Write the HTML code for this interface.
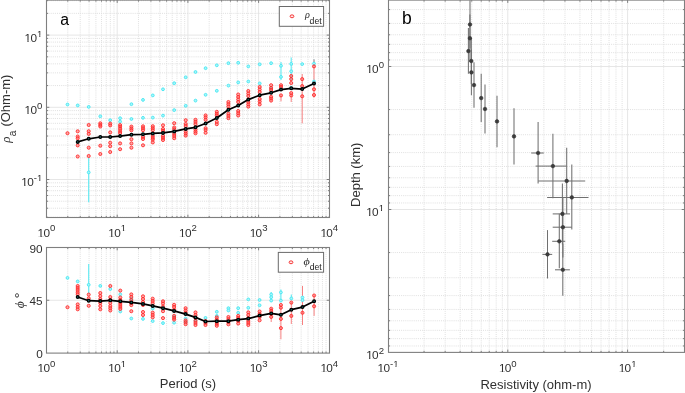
<!DOCTYPE html><html><head><meta charset="utf-8"><style>html,body{margin:0;padding:0;background:#fff;overflow:hidden}svg{display:block;will-change:transform}</style></head><body><svg width="685" height="393" viewBox="0 0 685 393">
<style>
.gmin{stroke:#dcdcdc;stroke-width:0.9;stroke-dasharray:1 1.1;fill:none}
.gmaj{stroke:#e6e6e6;stroke-width:1;fill:none}
.box{fill:none;stroke:#7f7f7f;stroke-width:1.1}
.tick{fill:none;stroke:#7f7f7f;stroke-width:1}
.t{font-family:"Liberation Sans",sans-serif;font-size:11.8px;fill:#303030}
.ts{font-family:"Liberation Sans",sans-serif;font-size:9.6px;fill:#303030}
.lbl{font-family:"Liberation Sans",sans-serif;font-size:13.0px;fill:#303030}
.cy{fill:#a8f7fb;stroke:#50e9f3;stroke-width:1.0}
.rd{fill:#ff6060;stroke:#ff2626;stroke-width:0.85;fill-opacity:0.55}
.bk{fill:#1a7272;stroke:#000;stroke-width:1.3}
.cye{stroke:#5ce9f3;stroke-width:1.1;fill:none}
.rde{stroke:#f56a6a;stroke-width:0.85;fill:none}
.bl{stroke:#000;stroke-width:1.7;fill:none;stroke-linejoin:round}
.pe{stroke:#707070;stroke-width:1.05;fill:none}
.pm{fill:#3c3c3c;stroke:#333;stroke-width:0.6}
</style>
<rect width="685" height="393" fill="#fff"/>
<line x1="67.78" y1="0.1" x2="67.78" y2="217.5" class="gmin"/>
<line x1="80.23" y1="0.1" x2="80.23" y2="217.5" class="gmin"/>
<line x1="89.07" y1="0.1" x2="89.07" y2="217.5" class="gmin"/>
<line x1="95.92" y1="0.1" x2="95.92" y2="217.5" class="gmin"/>
<line x1="101.52" y1="0.1" x2="101.52" y2="217.5" class="gmin"/>
<line x1="106.25" y1="0.1" x2="106.25" y2="217.5" class="gmin"/>
<line x1="110.35" y1="0.1" x2="110.35" y2="217.5" class="gmin"/>
<line x1="113.96" y1="0.1" x2="113.96" y2="217.5" class="gmin"/>
<line x1="138.48" y1="0.1" x2="138.48" y2="217.5" class="gmin"/>
<line x1="150.93" y1="0.1" x2="150.93" y2="217.5" class="gmin"/>
<line x1="159.77" y1="0.1" x2="159.77" y2="217.5" class="gmin"/>
<line x1="166.62" y1="0.1" x2="166.62" y2="217.5" class="gmin"/>
<line x1="172.22" y1="0.1" x2="172.22" y2="217.5" class="gmin"/>
<line x1="176.95" y1="0.1" x2="176.95" y2="217.5" class="gmin"/>
<line x1="181.05" y1="0.1" x2="181.05" y2="217.5" class="gmin"/>
<line x1="184.66" y1="0.1" x2="184.66" y2="217.5" class="gmin"/>
<line x1="209.18" y1="0.1" x2="209.18" y2="217.5" class="gmin"/>
<line x1="221.63" y1="0.1" x2="221.63" y2="217.5" class="gmin"/>
<line x1="230.47" y1="0.1" x2="230.47" y2="217.5" class="gmin"/>
<line x1="237.32" y1="0.1" x2="237.32" y2="217.5" class="gmin"/>
<line x1="242.92" y1="0.1" x2="242.92" y2="217.5" class="gmin"/>
<line x1="247.65" y1="0.1" x2="247.65" y2="217.5" class="gmin"/>
<line x1="251.75" y1="0.1" x2="251.75" y2="217.5" class="gmin"/>
<line x1="255.36" y1="0.1" x2="255.36" y2="217.5" class="gmin"/>
<line x1="279.88" y1="0.1" x2="279.88" y2="217.5" class="gmin"/>
<line x1="292.33" y1="0.1" x2="292.33" y2="217.5" class="gmin"/>
<line x1="301.17" y1="0.1" x2="301.17" y2="217.5" class="gmin"/>
<line x1="308.02" y1="0.1" x2="308.02" y2="217.5" class="gmin"/>
<line x1="313.62" y1="0.1" x2="313.62" y2="217.5" class="gmin"/>
<line x1="318.35" y1="0.1" x2="318.35" y2="217.5" class="gmin"/>
<line x1="322.45" y1="0.1" x2="322.45" y2="217.5" class="gmin"/>
<line x1="326.06" y1="0.1" x2="326.06" y2="217.5" class="gmin"/>
<line x1="117.20" y1="0.1" x2="117.20" y2="217.5" class="gmaj"/>
<line x1="187.90" y1="0.1" x2="187.90" y2="217.5" class="gmaj"/>
<line x1="258.60" y1="0.1" x2="258.60" y2="217.5" class="gmaj"/>
<line x1="46.5" y1="217.25" x2="329.5" y2="217.25" class="gmin"/>
<line x1="46.5" y1="208.23" x2="329.5" y2="208.23" class="gmin"/>
<line x1="46.5" y1="201.23" x2="329.5" y2="201.23" class="gmin"/>
<line x1="46.5" y1="195.52" x2="329.5" y2="195.52" class="gmin"/>
<line x1="46.5" y1="190.68" x2="329.5" y2="190.68" class="gmin"/>
<line x1="46.5" y1="186.50" x2="329.5" y2="186.50" class="gmin"/>
<line x1="46.5" y1="182.80" x2="329.5" y2="182.80" class="gmin"/>
<line x1="46.5" y1="157.77" x2="329.5" y2="157.77" class="gmin"/>
<line x1="46.5" y1="145.05" x2="329.5" y2="145.05" class="gmin"/>
<line x1="46.5" y1="136.03" x2="329.5" y2="136.03" class="gmin"/>
<line x1="46.5" y1="129.03" x2="329.5" y2="129.03" class="gmin"/>
<line x1="46.5" y1="123.32" x2="329.5" y2="123.32" class="gmin"/>
<line x1="46.5" y1="118.48" x2="329.5" y2="118.48" class="gmin"/>
<line x1="46.5" y1="114.30" x2="329.5" y2="114.30" class="gmin"/>
<line x1="46.5" y1="110.60" x2="329.5" y2="110.60" class="gmin"/>
<line x1="46.5" y1="85.57" x2="329.5" y2="85.57" class="gmin"/>
<line x1="46.5" y1="72.85" x2="329.5" y2="72.85" class="gmin"/>
<line x1="46.5" y1="63.83" x2="329.5" y2="63.83" class="gmin"/>
<line x1="46.5" y1="56.83" x2="329.5" y2="56.83" class="gmin"/>
<line x1="46.5" y1="51.12" x2="329.5" y2="51.12" class="gmin"/>
<line x1="46.5" y1="46.28" x2="329.5" y2="46.28" class="gmin"/>
<line x1="46.5" y1="42.10" x2="329.5" y2="42.10" class="gmin"/>
<line x1="46.5" y1="38.40" x2="329.5" y2="38.40" class="gmin"/>
<line x1="46.5" y1="13.37" x2="329.5" y2="13.37" class="gmin"/>
<line x1="46.5" y1="0.65" x2="329.5" y2="0.65" class="gmin"/>
<line x1="46.5" y1="179.50" x2="329.5" y2="179.50" class="gmaj"/>
<line x1="46.5" y1="107.30" x2="329.5" y2="107.30" class="gmaj"/>
<line x1="46.5" y1="35.10" x2="329.5" y2="35.10" class="gmaj"/>
<line x1="67.78" y1="247.5" x2="67.78" y2="353.1" class="gmin"/>
<line x1="80.23" y1="247.5" x2="80.23" y2="353.1" class="gmin"/>
<line x1="89.07" y1="247.5" x2="89.07" y2="353.1" class="gmin"/>
<line x1="95.92" y1="247.5" x2="95.92" y2="353.1" class="gmin"/>
<line x1="101.52" y1="247.5" x2="101.52" y2="353.1" class="gmin"/>
<line x1="106.25" y1="247.5" x2="106.25" y2="353.1" class="gmin"/>
<line x1="110.35" y1="247.5" x2="110.35" y2="353.1" class="gmin"/>
<line x1="113.96" y1="247.5" x2="113.96" y2="353.1" class="gmin"/>
<line x1="138.48" y1="247.5" x2="138.48" y2="353.1" class="gmin"/>
<line x1="150.93" y1="247.5" x2="150.93" y2="353.1" class="gmin"/>
<line x1="159.77" y1="247.5" x2="159.77" y2="353.1" class="gmin"/>
<line x1="166.62" y1="247.5" x2="166.62" y2="353.1" class="gmin"/>
<line x1="172.22" y1="247.5" x2="172.22" y2="353.1" class="gmin"/>
<line x1="176.95" y1="247.5" x2="176.95" y2="353.1" class="gmin"/>
<line x1="181.05" y1="247.5" x2="181.05" y2="353.1" class="gmin"/>
<line x1="184.66" y1="247.5" x2="184.66" y2="353.1" class="gmin"/>
<line x1="209.18" y1="247.5" x2="209.18" y2="353.1" class="gmin"/>
<line x1="221.63" y1="247.5" x2="221.63" y2="353.1" class="gmin"/>
<line x1="230.47" y1="247.5" x2="230.47" y2="353.1" class="gmin"/>
<line x1="237.32" y1="247.5" x2="237.32" y2="353.1" class="gmin"/>
<line x1="242.92" y1="247.5" x2="242.92" y2="353.1" class="gmin"/>
<line x1="247.65" y1="247.5" x2="247.65" y2="353.1" class="gmin"/>
<line x1="251.75" y1="247.5" x2="251.75" y2="353.1" class="gmin"/>
<line x1="255.36" y1="247.5" x2="255.36" y2="353.1" class="gmin"/>
<line x1="279.88" y1="247.5" x2="279.88" y2="353.1" class="gmin"/>
<line x1="292.33" y1="247.5" x2="292.33" y2="353.1" class="gmin"/>
<line x1="301.17" y1="247.5" x2="301.17" y2="353.1" class="gmin"/>
<line x1="308.02" y1="247.5" x2="308.02" y2="353.1" class="gmin"/>
<line x1="313.62" y1="247.5" x2="313.62" y2="353.1" class="gmin"/>
<line x1="318.35" y1="247.5" x2="318.35" y2="353.1" class="gmin"/>
<line x1="322.45" y1="247.5" x2="322.45" y2="353.1" class="gmin"/>
<line x1="326.06" y1="247.5" x2="326.06" y2="353.1" class="gmin"/>
<line x1="117.20" y1="247.5" x2="117.20" y2="353.1" class="gmaj"/>
<line x1="187.90" y1="247.5" x2="187.90" y2="353.1" class="gmaj"/>
<line x1="258.60" y1="247.5" x2="258.60" y2="353.1" class="gmaj"/>
<line x1="46.5" y1="300.25" x2="329.5" y2="300.25" class="gmaj"/>
<line x1="424.06" y1="0.1" x2="424.06" y2="352.4" class="gmin"/>
<line x1="445.16" y1="0.1" x2="445.16" y2="352.4" class="gmin"/>
<line x1="460.13" y1="0.1" x2="460.13" y2="352.4" class="gmin"/>
<line x1="471.74" y1="0.1" x2="471.74" y2="352.4" class="gmin"/>
<line x1="481.22" y1="0.1" x2="481.22" y2="352.4" class="gmin"/>
<line x1="489.24" y1="0.1" x2="489.24" y2="352.4" class="gmin"/>
<line x1="496.19" y1="0.1" x2="496.19" y2="352.4" class="gmin"/>
<line x1="502.32" y1="0.1" x2="502.32" y2="352.4" class="gmin"/>
<line x1="543.86" y1="0.1" x2="543.86" y2="352.4" class="gmin"/>
<line x1="564.96" y1="0.1" x2="564.96" y2="352.4" class="gmin"/>
<line x1="579.93" y1="0.1" x2="579.93" y2="352.4" class="gmin"/>
<line x1="591.54" y1="0.1" x2="591.54" y2="352.4" class="gmin"/>
<line x1="601.02" y1="0.1" x2="601.02" y2="352.4" class="gmin"/>
<line x1="609.04" y1="0.1" x2="609.04" y2="352.4" class="gmin"/>
<line x1="615.99" y1="0.1" x2="615.99" y2="352.4" class="gmin"/>
<line x1="622.12" y1="0.1" x2="622.12" y2="352.4" class="gmin"/>
<line x1="663.66" y1="0.1" x2="663.66" y2="352.4" class="gmin"/>
<line x1="507.80" y1="0.1" x2="507.80" y2="352.4" class="gmaj"/>
<line x1="627.60" y1="0.1" x2="627.60" y2="352.4" class="gmaj"/>
<line x1="388.5" y1="9.59" x2="684.5" y2="9.59" class="gmin"/>
<line x1="388.5" y1="23.45" x2="684.5" y2="23.45" class="gmin"/>
<line x1="388.5" y1="34.78" x2="684.5" y2="34.78" class="gmin"/>
<line x1="388.5" y1="44.35" x2="684.5" y2="44.35" class="gmin"/>
<line x1="388.5" y1="52.64" x2="684.5" y2="52.64" class="gmin"/>
<line x1="388.5" y1="59.96" x2="684.5" y2="59.96" class="gmin"/>
<line x1="388.5" y1="109.55" x2="684.5" y2="109.55" class="gmin"/>
<line x1="388.5" y1="134.73" x2="684.5" y2="134.73" class="gmin"/>
<line x1="388.5" y1="152.59" x2="684.5" y2="152.59" class="gmin"/>
<line x1="388.5" y1="166.45" x2="684.5" y2="166.45" class="gmin"/>
<line x1="388.5" y1="177.78" x2="684.5" y2="177.78" class="gmin"/>
<line x1="388.5" y1="187.35" x2="684.5" y2="187.35" class="gmin"/>
<line x1="388.5" y1="195.64" x2="684.5" y2="195.64" class="gmin"/>
<line x1="388.5" y1="202.96" x2="684.5" y2="202.96" class="gmin"/>
<line x1="388.5" y1="252.55" x2="684.5" y2="252.55" class="gmin"/>
<line x1="388.5" y1="277.73" x2="684.5" y2="277.73" class="gmin"/>
<line x1="388.5" y1="295.59" x2="684.5" y2="295.59" class="gmin"/>
<line x1="388.5" y1="309.45" x2="684.5" y2="309.45" class="gmin"/>
<line x1="388.5" y1="320.78" x2="684.5" y2="320.78" class="gmin"/>
<line x1="388.5" y1="330.35" x2="684.5" y2="330.35" class="gmin"/>
<line x1="388.5" y1="338.64" x2="684.5" y2="338.64" class="gmin"/>
<line x1="388.5" y1="345.96" x2="684.5" y2="345.96" class="gmin"/>
<line x1="388.5" y1="66.50" x2="684.5" y2="66.50" class="gmaj"/>
<line x1="388.5" y1="209.50" x2="684.5" y2="209.50" class="gmaj"/>
<line x1="88.7" y1="157.5" x2="88.7" y2="202.3" class="cye"/>
<line x1="281.0" y1="62.0" x2="281.0" y2="80.0" class="cye"/>
<line x1="291.2" y1="57.5" x2="291.2" y2="80.0" class="cye"/>
<line x1="314.0" y1="59.2" x2="314.0" y2="66.0" class="cye"/>
<line x1="281.0" y1="95.0" x2="281.0" y2="101.4" class="rde"/>
<line x1="291.2" y1="94.0" x2="291.2" y2="102.0" class="rde"/>
<line x1="302.2" y1="74.0" x2="302.2" y2="123.3" class="rde"/>
<line x1="314.0" y1="59.4" x2="314.0" y2="97.6" class="rde"/>
<line x1="259.7" y1="100.0" x2="259.7" y2="104.0" class="rde"/>
<circle cx="67.5" cy="104.5" r="1.4" class="cy"/>
<circle cx="77.7" cy="105.4" r="1.4" class="cy"/>
<circle cx="88.7" cy="106.9" r="1.4" class="cy"/>
<circle cx="88.7" cy="172.4" r="1.4" class="cy"/>
<circle cx="100.3" cy="116.3" r="1.4" class="cy"/>
<circle cx="110.2" cy="120.2" r="1.4" class="cy"/>
<circle cx="120.1" cy="118.2" r="1.4" class="cy"/>
<circle cx="120.1" cy="121.6" r="1.4" class="cy"/>
<circle cx="131.4" cy="104.2" r="1.4" class="cy"/>
<circle cx="131.4" cy="119.0" r="1.4" class="cy"/>
<circle cx="143.0" cy="99.9" r="1.4" class="cy"/>
<circle cx="143.0" cy="117.8" r="1.4" class="cy"/>
<circle cx="152.8" cy="95.4" r="1.4" class="cy"/>
<circle cx="152.8" cy="117.6" r="1.4" class="cy"/>
<circle cx="163.0" cy="89.3" r="1.4" class="cy"/>
<circle cx="163.0" cy="115.6" r="1.4" class="cy"/>
<circle cx="174.2" cy="83.2" r="1.4" class="cy"/>
<circle cx="174.2" cy="110.1" r="1.4" class="cy"/>
<circle cx="185.7" cy="77.3" r="1.4" class="cy"/>
<circle cx="185.7" cy="105.8" r="1.4" class="cy"/>
<circle cx="195.5" cy="72.0" r="1.4" class="cy"/>
<circle cx="195.5" cy="100.6" r="1.4" class="cy"/>
<circle cx="205.6" cy="68.2" r="1.4" class="cy"/>
<circle cx="205.6" cy="94.8" r="1.4" class="cy"/>
<circle cx="216.8" cy="65.3" r="1.4" class="cy"/>
<circle cx="216.8" cy="90.8" r="1.4" class="cy"/>
<circle cx="228.4" cy="63.2" r="1.4" class="cy"/>
<circle cx="228.4" cy="85.6" r="1.4" class="cy"/>
<circle cx="238.2" cy="62.8" r="1.4" class="cy"/>
<circle cx="238.2" cy="82.4" r="1.4" class="cy"/>
<circle cx="248.3" cy="66.4" r="1.4" class="cy"/>
<circle cx="248.3" cy="81.5" r="1.4" class="cy"/>
<circle cx="259.7" cy="64.3" r="1.4" class="cy"/>
<circle cx="259.7" cy="83.4" r="1.4" class="cy"/>
<circle cx="271.1" cy="63.2" r="1.4" class="cy"/>
<circle cx="271.1" cy="88.6" r="1.4" class="cy"/>
<circle cx="281.0" cy="65.8" r="1.4" class="cy"/>
<circle cx="281.0" cy="76.9" r="1.4" class="cy"/>
<circle cx="291.2" cy="63.9" r="1.4" class="cy"/>
<circle cx="291.2" cy="71.3" r="1.4" class="cy"/>
<circle cx="291.2" cy="88.0" r="1.4" class="cy"/>
<circle cx="302.2" cy="64.1" r="1.4" class="cy"/>
<circle cx="302.2" cy="88.6" r="1.4" class="cy"/>
<circle cx="314.0" cy="63.6" r="1.4" class="cy"/>
<circle cx="314.0" cy="81.5" r="1.4" class="cy"/>
<circle cx="67.5" cy="133.2" r="1.55" class="rd"/>
<circle cx="77.7" cy="131.3" r="1.55" class="rd"/>
<circle cx="77.7" cy="136.5" r="1.55" class="rd"/>
<circle cx="77.7" cy="138.3" r="1.55" class="rd"/>
<circle cx="77.7" cy="145.4" r="1.55" class="rd"/>
<circle cx="77.7" cy="156.5" r="1.55" class="rd"/>
<circle cx="88.7" cy="125.0" r="1.55" class="rd"/>
<circle cx="88.7" cy="131.2" r="1.55" class="rd"/>
<circle cx="88.7" cy="133.9" r="1.55" class="rd"/>
<circle cx="88.7" cy="147.7" r="1.55" class="rd"/>
<circle cx="88.7" cy="156.0" r="1.55" class="rd"/>
<circle cx="100.3" cy="123.3" r="1.55" class="rd"/>
<circle cx="100.3" cy="125.0" r="1.55" class="rd"/>
<circle cx="100.3" cy="126.5" r="1.55" class="rd"/>
<circle cx="100.3" cy="145.7" r="1.55" class="rd"/>
<circle cx="100.3" cy="154.0" r="1.55" class="rd"/>
<circle cx="110.2" cy="123.6" r="1.55" class="rd"/>
<circle cx="110.2" cy="125.4" r="1.55" class="rd"/>
<circle cx="110.2" cy="132.4" r="1.55" class="rd"/>
<circle cx="110.2" cy="142.7" r="1.55" class="rd"/>
<circle cx="110.2" cy="146.2" r="1.55" class="rd"/>
<circle cx="110.2" cy="152.0" r="1.55" class="rd"/>
<circle cx="120.1" cy="125.1" r="1.55" class="rd"/>
<circle cx="120.1" cy="126.8" r="1.55" class="rd"/>
<circle cx="120.1" cy="128.9" r="1.55" class="rd"/>
<circle cx="120.1" cy="131.2" r="1.55" class="rd"/>
<circle cx="120.1" cy="133.0" r="1.55" class="rd"/>
<circle cx="120.1" cy="143.4" r="1.55" class="rd"/>
<circle cx="120.1" cy="149.2" r="1.55" class="rd"/>
<circle cx="131.4" cy="126.6" r="1.55" class="rd"/>
<circle cx="131.4" cy="128.5" r="1.55" class="rd"/>
<circle cx="131.4" cy="130.3" r="1.55" class="rd"/>
<circle cx="131.4" cy="139.2" r="1.55" class="rd"/>
<circle cx="131.4" cy="143.4" r="1.55" class="rd"/>
<circle cx="131.4" cy="147.7" r="1.55" class="rd"/>
<circle cx="143.0" cy="126.3" r="1.55" class="rd"/>
<circle cx="143.0" cy="128.2" r="1.55" class="rd"/>
<circle cx="143.0" cy="130.2" r="1.55" class="rd"/>
<circle cx="143.0" cy="137.0" r="1.55" class="rd"/>
<circle cx="143.0" cy="139.0" r="1.55" class="rd"/>
<circle cx="143.0" cy="145.3" r="1.55" class="rd"/>
<circle cx="152.8" cy="126.2" r="1.55" class="rd"/>
<circle cx="152.8" cy="128.2" r="1.55" class="rd"/>
<circle cx="152.8" cy="130.2" r="1.55" class="rd"/>
<circle cx="152.8" cy="136.0" r="1.55" class="rd"/>
<circle cx="152.8" cy="138.0" r="1.55" class="rd"/>
<circle cx="152.8" cy="139.6" r="1.55" class="rd"/>
<circle cx="152.8" cy="142.4" r="1.55" class="rd"/>
<circle cx="163.0" cy="125.3" r="1.55" class="rd"/>
<circle cx="163.0" cy="129.0" r="1.55" class="rd"/>
<circle cx="163.0" cy="130.9" r="1.55" class="rd"/>
<circle cx="163.0" cy="136.0" r="1.55" class="rd"/>
<circle cx="163.0" cy="138.0" r="1.55" class="rd"/>
<circle cx="163.0" cy="140.0" r="1.55" class="rd"/>
<circle cx="174.2" cy="123.2" r="1.55" class="rd"/>
<circle cx="174.2" cy="127.5" r="1.55" class="rd"/>
<circle cx="174.2" cy="129.3" r="1.55" class="rd"/>
<circle cx="174.2" cy="134.0" r="1.55" class="rd"/>
<circle cx="174.2" cy="136.0" r="1.55" class="rd"/>
<circle cx="174.2" cy="138.2" r="1.55" class="rd"/>
<circle cx="185.7" cy="120.2" r="1.55" class="rd"/>
<circle cx="185.7" cy="124.0" r="1.55" class="rd"/>
<circle cx="185.7" cy="126.0" r="1.55" class="rd"/>
<circle cx="185.7" cy="131.6" r="1.55" class="rd"/>
<circle cx="185.7" cy="133.6" r="1.55" class="rd"/>
<circle cx="185.7" cy="135.6" r="1.55" class="rd"/>
<circle cx="195.5" cy="119.8" r="1.55" class="rd"/>
<circle cx="195.5" cy="121.9" r="1.55" class="rd"/>
<circle cx="195.5" cy="124.2" r="1.55" class="rd"/>
<circle cx="195.5" cy="129.5" r="1.55" class="rd"/>
<circle cx="195.5" cy="131.5" r="1.55" class="rd"/>
<circle cx="195.5" cy="133.3" r="1.55" class="rd"/>
<circle cx="205.6" cy="115.4" r="1.55" class="rd"/>
<circle cx="205.6" cy="117.4" r="1.55" class="rd"/>
<circle cx="205.6" cy="119.8" r="1.55" class="rd"/>
<circle cx="205.6" cy="128.2" r="1.55" class="rd"/>
<circle cx="205.6" cy="130.0" r="1.55" class="rd"/>
<circle cx="205.6" cy="132.8" r="1.55" class="rd"/>
<circle cx="216.8" cy="111.8" r="1.55" class="rd"/>
<circle cx="216.8" cy="113.8" r="1.55" class="rd"/>
<circle cx="216.8" cy="115.6" r="1.55" class="rd"/>
<circle cx="216.8" cy="121.9" r="1.55" class="rd"/>
<circle cx="216.8" cy="124.2" r="1.55" class="rd"/>
<circle cx="228.4" cy="102.0" r="1.55" class="rd"/>
<circle cx="228.4" cy="104.2" r="1.55" class="rd"/>
<circle cx="228.4" cy="106.5" r="1.55" class="rd"/>
<circle cx="228.4" cy="113.8" r="1.55" class="rd"/>
<circle cx="228.4" cy="116.0" r="1.55" class="rd"/>
<circle cx="228.4" cy="118.2" r="1.55" class="rd"/>
<circle cx="238.2" cy="94.5" r="1.55" class="rd"/>
<circle cx="238.2" cy="97.0" r="1.55" class="rd"/>
<circle cx="238.2" cy="99.5" r="1.55" class="rd"/>
<circle cx="238.2" cy="102.0" r="1.55" class="rd"/>
<circle cx="238.2" cy="111.0" r="1.55" class="rd"/>
<circle cx="238.2" cy="113.2" r="1.55" class="rd"/>
<circle cx="238.2" cy="115.5" r="1.55" class="rd"/>
<circle cx="248.3" cy="91.0" r="1.55" class="rd"/>
<circle cx="248.3" cy="93.5" r="1.55" class="rd"/>
<circle cx="248.3" cy="96.0" r="1.55" class="rd"/>
<circle cx="248.3" cy="102.0" r="1.55" class="rd"/>
<circle cx="248.3" cy="104.4" r="1.55" class="rd"/>
<circle cx="248.3" cy="106.6" r="1.55" class="rd"/>
<circle cx="259.7" cy="87.0" r="1.55" class="rd"/>
<circle cx="259.7" cy="89.5" r="1.55" class="rd"/>
<circle cx="259.7" cy="92.0" r="1.55" class="rd"/>
<circle cx="259.7" cy="99.0" r="1.55" class="rd"/>
<circle cx="259.7" cy="101.5" r="1.55" class="rd"/>
<circle cx="259.7" cy="104.4" r="1.55" class="rd"/>
<circle cx="271.1" cy="85.2" r="1.55" class="rd"/>
<circle cx="271.1" cy="87.9" r="1.55" class="rd"/>
<circle cx="271.1" cy="90.0" r="1.55" class="rd"/>
<circle cx="271.1" cy="96.8" r="1.55" class="rd"/>
<circle cx="271.1" cy="98.6" r="1.55" class="rd"/>
<circle cx="271.1" cy="100.6" r="1.55" class="rd"/>
<circle cx="281.0" cy="85.2" r="1.55" class="rd"/>
<circle cx="281.0" cy="87.0" r="1.55" class="rd"/>
<circle cx="281.0" cy="95.4" r="1.55" class="rd"/>
<circle cx="291.2" cy="76.0" r="1.55" class="rd"/>
<circle cx="291.2" cy="79.1" r="1.55" class="rd"/>
<circle cx="291.2" cy="83.0" r="1.55" class="rd"/>
<circle cx="291.2" cy="93.1" r="1.55" class="rd"/>
<circle cx="291.2" cy="95.4" r="1.55" class="rd"/>
<circle cx="302.2" cy="79.1" r="1.55" class="rd"/>
<circle cx="302.2" cy="86.1" r="1.55" class="rd"/>
<circle cx="302.2" cy="96.3" r="1.55" class="rd"/>
<circle cx="314.0" cy="66.4" r="1.55" class="rd"/>
<circle cx="314.0" cy="89.3" r="1.55" class="rd"/>
<circle cx="314.0" cy="95.0" r="1.55" class="rd"/>
<polyline class="bl" points="77.7,141.9 88.7,138.8 100.3,137.0 110.2,137.0 120.1,136.1 131.4,134.7 143.0,134.3 152.8,133.4 163.0,132.9 174.2,131.4 185.7,128.9 195.5,127.3 205.6,123.5 216.8,118.0 228.4,109.8 238.2,105.5 248.3,99.6 259.7,95.2 271.1,92.8 281.0,89.6 291.2,88.3 302.2,89.1 314.0,83.6"/>
<circle cx="77.7" cy="141.9" r="1.35" class="bk"/>
<circle cx="88.7" cy="138.8" r="1.35" class="bk"/>
<circle cx="100.3" cy="137.0" r="1.35" class="bk"/>
<circle cx="110.2" cy="137.0" r="1.35" class="bk"/>
<circle cx="120.1" cy="136.1" r="1.35" class="bk"/>
<circle cx="131.4" cy="134.7" r="1.35" class="bk"/>
<circle cx="143.0" cy="134.3" r="1.35" class="bk"/>
<circle cx="152.8" cy="133.4" r="1.35" class="bk"/>
<circle cx="163.0" cy="132.9" r="1.35" class="bk"/>
<circle cx="174.2" cy="131.4" r="1.35" class="bk"/>
<circle cx="185.7" cy="128.9" r="1.35" class="bk"/>
<circle cx="195.5" cy="127.3" r="1.35" class="bk"/>
<circle cx="205.6" cy="123.5" r="1.35" class="bk"/>
<circle cx="216.8" cy="118.0" r="1.35" class="bk"/>
<circle cx="228.4" cy="109.8" r="1.35" class="bk"/>
<circle cx="238.2" cy="105.5" r="1.35" class="bk"/>
<circle cx="248.3" cy="99.6" r="1.35" class="bk"/>
<circle cx="259.7" cy="95.2" r="1.35" class="bk"/>
<circle cx="271.1" cy="92.8" r="1.35" class="bk"/>
<circle cx="281.0" cy="89.6" r="1.35" class="bk"/>
<circle cx="291.2" cy="88.3" r="1.35" class="bk"/>
<circle cx="302.2" cy="89.1" r="1.35" class="bk"/>
<circle cx="314.0" cy="83.6" r="1.35" class="bk"/>
<line x1="88.7" y1="264.1" x2="88.7" y2="293.6" class="cye"/>
<line x1="271.2" y1="292.0" x2="271.2" y2="302.0" class="cye"/>
<line x1="280.9" y1="289.4" x2="280.9" y2="301.0" class="cye"/>
<line x1="291.3" y1="294.5" x2="291.3" y2="300.0" class="cye"/>
<line x1="271.2" y1="308.0" x2="271.2" y2="322.0" class="rde"/>
<line x1="280.9" y1="305.0" x2="280.9" y2="339.3" class="rde"/>
<line x1="291.3" y1="302.0" x2="291.3" y2="324.0" class="rde"/>
<line x1="302.5" y1="285.9" x2="302.5" y2="325.0" class="rde"/>
<line x1="314.1" y1="295.0" x2="314.1" y2="315.9" class="rde"/>
<circle cx="67.5" cy="277.9" r="1.4" class="cy"/>
<circle cx="77.7" cy="281.4" r="1.4" class="cy"/>
<circle cx="88.7" cy="284.8" r="1.4" class="cy"/>
<circle cx="100.3" cy="285.9" r="1.4" class="cy"/>
<circle cx="110.3" cy="289.1" r="1.4" class="cy"/>
<circle cx="120.3" cy="294.4" r="1.4" class="cy"/>
<circle cx="120.3" cy="311.5" r="1.4" class="cy"/>
<circle cx="131.3" cy="298.7" r="1.4" class="cy"/>
<circle cx="131.3" cy="318.5" r="1.4" class="cy"/>
<circle cx="143.0" cy="318.9" r="1.4" class="cy"/>
<circle cx="152.7" cy="308.5" r="1.4" class="cy"/>
<circle cx="152.7" cy="321.1" r="1.4" class="cy"/>
<circle cx="163.0" cy="323.1" r="1.4" class="cy"/>
<circle cx="174.1" cy="316.6" r="1.4" class="cy"/>
<circle cx="174.1" cy="322.7" r="1.4" class="cy"/>
<circle cx="185.6" cy="318.5" r="1.4" class="cy"/>
<circle cx="185.6" cy="321.9" r="1.4" class="cy"/>
<circle cx="195.5" cy="320.5" r="1.4" class="cy"/>
<circle cx="205.5" cy="317.9" r="1.4" class="cy"/>
<circle cx="216.8" cy="311.8" r="1.4" class="cy"/>
<circle cx="216.8" cy="315.9" r="1.4" class="cy"/>
<circle cx="228.4" cy="308.2" r="1.4" class="cy"/>
<circle cx="228.4" cy="310.5" r="1.4" class="cy"/>
<circle cx="238.2" cy="308.2" r="1.4" class="cy"/>
<circle cx="238.2" cy="312.8" r="1.4" class="cy"/>
<circle cx="248.3" cy="299.4" r="1.4" class="cy"/>
<circle cx="248.3" cy="307.8" r="1.4" class="cy"/>
<circle cx="259.6" cy="300.0" r="1.4" class="cy"/>
<circle cx="259.6" cy="305.3" r="1.4" class="cy"/>
<circle cx="271.2" cy="294.5" r="1.4" class="cy"/>
<circle cx="271.2" cy="297.2" r="1.4" class="cy"/>
<circle cx="271.2" cy="300.6" r="1.4" class="cy"/>
<circle cx="280.9" cy="292.4" r="1.4" class="cy"/>
<circle cx="280.9" cy="300.6" r="1.4" class="cy"/>
<circle cx="291.3" cy="298.5" r="1.4" class="cy"/>
<circle cx="302.5" cy="297.5" r="1.4" class="cy"/>
<circle cx="302.5" cy="300.2" r="1.4" class="cy"/>
<circle cx="67.5" cy="307.2" r="1.55" class="rd"/>
<circle cx="77.7" cy="286.0" r="1.55" class="rd"/>
<circle cx="77.7" cy="288.0" r="1.55" class="rd"/>
<circle cx="77.7" cy="290.0" r="1.55" class="rd"/>
<circle cx="77.7" cy="292.2" r="1.55" class="rd"/>
<circle cx="77.7" cy="294.2" r="1.55" class="rd"/>
<circle cx="77.7" cy="304.4" r="1.55" class="rd"/>
<circle cx="77.7" cy="307.0" r="1.55" class="rd"/>
<circle cx="77.7" cy="309.3" r="1.55" class="rd"/>
<circle cx="88.7" cy="294.6" r="1.55" class="rd"/>
<circle cx="88.7" cy="298.3" r="1.55" class="rd"/>
<circle cx="88.7" cy="305.8" r="1.55" class="rd"/>
<circle cx="100.3" cy="293.0" r="1.55" class="rd"/>
<circle cx="100.3" cy="296.0" r="1.55" class="rd"/>
<circle cx="100.3" cy="299.0" r="1.55" class="rd"/>
<circle cx="100.3" cy="303.0" r="1.55" class="rd"/>
<circle cx="100.3" cy="306.0" r="1.55" class="rd"/>
<circle cx="100.3" cy="309.3" r="1.55" class="rd"/>
<circle cx="110.3" cy="286.0" r="1.55" class="rd"/>
<circle cx="110.3" cy="297.0" r="1.55" class="rd"/>
<circle cx="110.3" cy="300.0" r="1.55" class="rd"/>
<circle cx="110.3" cy="303.0" r="1.55" class="rd"/>
<circle cx="110.3" cy="306.0" r="1.55" class="rd"/>
<circle cx="110.3" cy="308.2" r="1.55" class="rd"/>
<circle cx="110.3" cy="310.5" r="1.55" class="rd"/>
<circle cx="120.3" cy="290.6" r="1.55" class="rd"/>
<circle cx="120.3" cy="297.5" r="1.55" class="rd"/>
<circle cx="120.3" cy="300.0" r="1.55" class="rd"/>
<circle cx="120.3" cy="303.0" r="1.55" class="rd"/>
<circle cx="120.3" cy="305.0" r="1.55" class="rd"/>
<circle cx="120.3" cy="307.0" r="1.55" class="rd"/>
<circle cx="120.3" cy="308.9" r="1.55" class="rd"/>
<circle cx="131.3" cy="294.4" r="1.55" class="rd"/>
<circle cx="131.3" cy="297.0" r="1.55" class="rd"/>
<circle cx="131.3" cy="300.0" r="1.55" class="rd"/>
<circle cx="131.3" cy="303.0" r="1.55" class="rd"/>
<circle cx="131.3" cy="305.1" r="1.55" class="rd"/>
<circle cx="131.3" cy="311.2" r="1.55" class="rd"/>
<circle cx="143.0" cy="296.3" r="1.55" class="rd"/>
<circle cx="143.0" cy="299.0" r="1.55" class="rd"/>
<circle cx="143.0" cy="302.0" r="1.55" class="rd"/>
<circle cx="143.0" cy="305.0" r="1.55" class="rd"/>
<circle cx="143.0" cy="312.0" r="1.55" class="rd"/>
<circle cx="143.0" cy="315.0" r="1.55" class="rd"/>
<circle cx="152.7" cy="298.7" r="1.55" class="rd"/>
<circle cx="152.7" cy="301.0" r="1.55" class="rd"/>
<circle cx="152.7" cy="303.3" r="1.55" class="rd"/>
<circle cx="152.7" cy="312.7" r="1.55" class="rd"/>
<circle cx="152.7" cy="315.0" r="1.55" class="rd"/>
<circle cx="152.7" cy="317.3" r="1.55" class="rd"/>
<circle cx="163.0" cy="301.3" r="1.55" class="rd"/>
<circle cx="163.0" cy="303.5" r="1.55" class="rd"/>
<circle cx="163.0" cy="306.6" r="1.55" class="rd"/>
<circle cx="163.0" cy="311.2" r="1.55" class="rd"/>
<circle cx="163.0" cy="318.1" r="1.55" class="rd"/>
<circle cx="174.1" cy="304.8" r="1.55" class="rd"/>
<circle cx="174.1" cy="307.0" r="1.55" class="rd"/>
<circle cx="174.1" cy="309.7" r="1.55" class="rd"/>
<circle cx="174.1" cy="315.8" r="1.55" class="rd"/>
<circle cx="174.1" cy="318.0" r="1.55" class="rd"/>
<circle cx="174.1" cy="319.6" r="1.55" class="rd"/>
<circle cx="185.6" cy="308.2" r="1.55" class="rd"/>
<circle cx="185.6" cy="310.5" r="1.55" class="rd"/>
<circle cx="185.6" cy="312.7" r="1.55" class="rd"/>
<circle cx="185.6" cy="320.4" r="1.55" class="rd"/>
<circle cx="185.6" cy="322.2" r="1.55" class="rd"/>
<circle cx="185.6" cy="324.2" r="1.55" class="rd"/>
<circle cx="195.5" cy="312.4" r="1.55" class="rd"/>
<circle cx="195.5" cy="315.0" r="1.55" class="rd"/>
<circle cx="195.5" cy="318.0" r="1.55" class="rd"/>
<circle cx="195.5" cy="321.0" r="1.55" class="rd"/>
<circle cx="195.5" cy="323.0" r="1.55" class="rd"/>
<circle cx="195.5" cy="325.0" r="1.55" class="rd"/>
<circle cx="205.5" cy="321.0" r="1.55" class="rd"/>
<circle cx="205.5" cy="323.0" r="1.55" class="rd"/>
<circle cx="205.5" cy="325.0" r="1.55" class="rd"/>
<circle cx="216.8" cy="317.4" r="1.55" class="rd"/>
<circle cx="216.8" cy="319.5" r="1.55" class="rd"/>
<circle cx="216.8" cy="322.0" r="1.55" class="rd"/>
<circle cx="216.8" cy="324.0" r="1.55" class="rd"/>
<circle cx="216.8" cy="325.8" r="1.55" class="rd"/>
<circle cx="228.4" cy="317.0" r="1.55" class="rd"/>
<circle cx="228.4" cy="319.2" r="1.55" class="rd"/>
<circle cx="228.4" cy="322.0" r="1.55" class="rd"/>
<circle cx="228.4" cy="324.3" r="1.55" class="rd"/>
<circle cx="238.2" cy="315.9" r="1.55" class="rd"/>
<circle cx="238.2" cy="318.0" r="1.55" class="rd"/>
<circle cx="238.2" cy="321.0" r="1.55" class="rd"/>
<circle cx="238.2" cy="323.5" r="1.55" class="rd"/>
<circle cx="248.3" cy="312.4" r="1.55" class="rd"/>
<circle cx="248.3" cy="315.0" r="1.55" class="rd"/>
<circle cx="248.3" cy="318.0" r="1.55" class="rd"/>
<circle cx="248.3" cy="321.0" r="1.55" class="rd"/>
<circle cx="248.3" cy="323.0" r="1.55" class="rd"/>
<circle cx="248.3" cy="325.0" r="1.55" class="rd"/>
<circle cx="259.6" cy="311.5" r="1.55" class="rd"/>
<circle cx="259.6" cy="314.0" r="1.55" class="rd"/>
<circle cx="259.6" cy="317.0" r="1.55" class="rd"/>
<circle cx="259.6" cy="320.3" r="1.55" class="rd"/>
<circle cx="271.2" cy="308.7" r="1.55" class="rd"/>
<circle cx="271.2" cy="311.0" r="1.55" class="rd"/>
<circle cx="271.2" cy="314.0" r="1.55" class="rd"/>
<circle cx="271.2" cy="316.9" r="1.55" class="rd"/>
<circle cx="280.9" cy="305.0" r="1.55" class="rd"/>
<circle cx="280.9" cy="307.7" r="1.55" class="rd"/>
<circle cx="280.9" cy="318.9" r="1.55" class="rd"/>
<circle cx="280.9" cy="328.1" r="1.55" class="rd"/>
<circle cx="291.3" cy="302.6" r="1.55" class="rd"/>
<circle cx="291.3" cy="315.9" r="1.55" class="rd"/>
<circle cx="302.5" cy="312.8" r="1.55" class="rd"/>
<circle cx="314.1" cy="295.5" r="1.55" class="rd"/>
<circle cx="314.1" cy="306.3" r="1.55" class="rd"/>
<polyline class="bl" points="77.7,297.0 88.7,300.7 100.3,301.1 110.3,300.3 120.3,301.3 131.3,302.4 143.0,303.9 152.7,305.9 163.0,308.2 174.1,310.9 185.6,314.1 195.5,317.4 205.5,321.5 216.8,321.2 228.4,321.2 238.2,319.7 248.3,318.6 259.6,315.6 271.2,313.4 280.9,314.8 291.3,309.7 302.5,307.1 314.1,301.2"/>
<circle cx="77.7" cy="297.0" r="1.35" class="bk"/>
<circle cx="88.7" cy="300.7" r="1.35" class="bk"/>
<circle cx="100.3" cy="301.1" r="1.35" class="bk"/>
<circle cx="110.3" cy="300.3" r="1.35" class="bk"/>
<circle cx="120.3" cy="301.3" r="1.35" class="bk"/>
<circle cx="131.3" cy="302.4" r="1.35" class="bk"/>
<circle cx="143.0" cy="303.9" r="1.35" class="bk"/>
<circle cx="152.7" cy="305.9" r="1.35" class="bk"/>
<circle cx="163.0" cy="308.2" r="1.35" class="bk"/>
<circle cx="174.1" cy="310.9" r="1.35" class="bk"/>
<circle cx="185.6" cy="314.1" r="1.35" class="bk"/>
<circle cx="195.5" cy="317.4" r="1.35" class="bk"/>
<circle cx="205.5" cy="321.5" r="1.35" class="bk"/>
<circle cx="216.8" cy="321.2" r="1.35" class="bk"/>
<circle cx="228.4" cy="321.2" r="1.35" class="bk"/>
<circle cx="238.2" cy="319.7" r="1.35" class="bk"/>
<circle cx="248.3" cy="318.6" r="1.35" class="bk"/>
<circle cx="259.6" cy="315.6" r="1.35" class="bk"/>
<circle cx="271.2" cy="313.4" r="1.35" class="bk"/>
<circle cx="280.9" cy="314.8" r="1.35" class="bk"/>
<circle cx="291.3" cy="309.7" r="1.35" class="bk"/>
<circle cx="302.5" cy="307.1" r="1.35" class="bk"/>
<circle cx="314.1" cy="301.2" r="1.35" class="bk"/>
<line x1="470.0" y1="0.3" x2="470.0" y2="48.5" class="pe"/>
<line x1="469.9" y1="14.5" x2="469.9" y2="62.0" class="pe"/>
<line x1="468.4" y1="28.0" x2="468.4" y2="73.8" class="pe"/>
<line x1="471.3" y1="38.0" x2="471.3" y2="84.0" class="pe"/>
<line x1="471.4" y1="49.4" x2="471.4" y2="95.3" class="pe"/>
<line x1="474.0" y1="62.3" x2="474.0" y2="107.7" class="pe"/>
<line x1="481.2" y1="73.8" x2="481.2" y2="122.1" class="pe"/>
<line x1="485.0" y1="84.5" x2="485.0" y2="133.5" class="pe"/>
<line x1="497.0" y1="95.7" x2="497.0" y2="147.2" class="pe"/>
<line x1="514.0" y1="108.3" x2="514.0" y2="164.4" class="pe"/>
<line x1="538.1" y1="122.0" x2="538.1" y2="183.4" class="pe"/>
<line x1="531.2" y1="153.0" x2="543.8" y2="153.0" class="pe"/>
<line x1="552.9" y1="133.7" x2="552.9" y2="198.2" class="pe"/>
<line x1="535.6" y1="166.1" x2="566.6" y2="166.1" class="pe"/>
<line x1="566.7" y1="147.8" x2="566.7" y2="214.0" class="pe"/>
<line x1="538.2" y1="180.9" x2="585.2" y2="180.9" class="pe"/>
<line x1="571.8" y1="164.6" x2="571.8" y2="229.5" class="pe"/>
<line x1="547.1" y1="197.4" x2="588.5" y2="197.4" class="pe"/>
<line x1="562.4" y1="183.4" x2="562.4" y2="244.4" class="pe"/>
<line x1="552.7" y1="213.9" x2="570.0" y2="213.9" class="pe"/>
<line x1="562.9" y1="197.0" x2="562.9" y2="257.4" class="pe"/>
<line x1="552.7" y1="227.2" x2="571.9" y2="227.2" class="pe"/>
<line x1="559.3" y1="213.8" x2="559.3" y2="268.2" class="pe"/>
<line x1="552.2" y1="241.3" x2="565.2" y2="241.3" class="pe"/>
<line x1="547.5" y1="230.1" x2="547.5" y2="278.5" class="pe"/>
<line x1="542.4" y1="254.4" x2="552.2" y2="254.4" class="pe"/>
<line x1="562.8" y1="243.8" x2="562.8" y2="295.8" class="pe"/>
<line x1="555.0" y1="269.8" x2="569.9" y2="269.8" class="pe"/>
<circle cx="470.0" cy="24.5" r="1.8" class="pm"/>
<circle cx="469.9" cy="38.2" r="1.8" class="pm"/>
<circle cx="468.4" cy="51.1" r="1.8" class="pm"/>
<circle cx="471.3" cy="61.0" r="1.8" class="pm"/>
<circle cx="471.4" cy="72.4" r="1.8" class="pm"/>
<circle cx="474.0" cy="85.1" r="1.8" class="pm"/>
<circle cx="481.2" cy="98.1" r="1.8" class="pm"/>
<circle cx="485.0" cy="109.0" r="1.8" class="pm"/>
<circle cx="497.0" cy="121.4" r="1.8" class="pm"/>
<circle cx="514.0" cy="136.4" r="1.8" class="pm"/>
<circle cx="538.1" cy="153.0" r="1.8" class="pm"/>
<circle cx="552.9" cy="166.1" r="1.8" class="pm"/>
<circle cx="566.7" cy="180.9" r="1.8" class="pm"/>
<circle cx="571.8" cy="197.4" r="1.8" class="pm"/>
<circle cx="562.4" cy="213.9" r="1.8" class="pm"/>
<circle cx="562.9" cy="227.2" r="1.8" class="pm"/>
<circle cx="559.3" cy="241.3" r="1.8" class="pm"/>
<circle cx="547.5" cy="254.4" r="1.8" class="pm"/>
<circle cx="562.8" cy="269.8" r="1.8" class="pm"/>
<path d="M117.20 217.5v-2.8M117.20 0.1v2.8M187.90 217.5v-2.8M187.90 0.1v2.8M258.60 217.5v-2.8M258.60 0.1v2.8M67.78 217.5v-1.6M67.78 0.1v1.6M80.23 217.5v-1.6M80.23 0.1v1.6M89.07 217.5v-1.6M89.07 0.1v1.6M95.92 217.5v-1.6M95.92 0.1v1.6M101.52 217.5v-1.6M101.52 0.1v1.6M106.25 217.5v-1.6M106.25 0.1v1.6M110.35 217.5v-1.6M110.35 0.1v1.6M113.96 217.5v-1.6M113.96 0.1v1.6M138.48 217.5v-1.6M138.48 0.1v1.6M150.93 217.5v-1.6M150.93 0.1v1.6M159.77 217.5v-1.6M159.77 0.1v1.6M166.62 217.5v-1.6M166.62 0.1v1.6M172.22 217.5v-1.6M172.22 0.1v1.6M176.95 217.5v-1.6M176.95 0.1v1.6M181.05 217.5v-1.6M181.05 0.1v1.6M184.66 217.5v-1.6M184.66 0.1v1.6M209.18 217.5v-1.6M209.18 0.1v1.6M221.63 217.5v-1.6M221.63 0.1v1.6M230.47 217.5v-1.6M230.47 0.1v1.6M237.32 217.5v-1.6M237.32 0.1v1.6M242.92 217.5v-1.6M242.92 0.1v1.6M247.65 217.5v-1.6M247.65 0.1v1.6M251.75 217.5v-1.6M251.75 0.1v1.6M255.36 217.5v-1.6M255.36 0.1v1.6M279.88 217.5v-1.6M279.88 0.1v1.6M292.33 217.5v-1.6M292.33 0.1v1.6M301.17 217.5v-1.6M301.17 0.1v1.6M308.02 217.5v-1.6M308.02 0.1v1.6M313.62 217.5v-1.6M313.62 0.1v1.6M318.35 217.5v-1.6M318.35 0.1v1.6M322.45 217.5v-1.6M322.45 0.1v1.6M326.06 217.5v-1.6M326.06 0.1v1.6M46.5 179.50h2.8M329.5 179.50h-2.8M46.5 107.30h2.8M329.5 107.30h-2.8M46.5 35.10h2.8M329.5 35.10h-2.8M46.5 217.25h1.6M329.5 217.25h-1.6M46.5 208.23h1.6M329.5 208.23h-1.6M46.5 201.23h1.6M329.5 201.23h-1.6M46.5 195.52h1.6M329.5 195.52h-1.6M46.5 190.68h1.6M329.5 190.68h-1.6M46.5 186.50h1.6M329.5 186.50h-1.6M46.5 182.80h1.6M329.5 182.80h-1.6M46.5 157.77h1.6M329.5 157.77h-1.6M46.5 145.05h1.6M329.5 145.05h-1.6M46.5 136.03h1.6M329.5 136.03h-1.6M46.5 129.03h1.6M329.5 129.03h-1.6M46.5 123.32h1.6M329.5 123.32h-1.6M46.5 118.48h1.6M329.5 118.48h-1.6M46.5 114.30h1.6M329.5 114.30h-1.6M46.5 110.60h1.6M329.5 110.60h-1.6M46.5 85.57h1.6M329.5 85.57h-1.6M46.5 72.85h1.6M329.5 72.85h-1.6M46.5 63.83h1.6M329.5 63.83h-1.6M46.5 56.83h1.6M329.5 56.83h-1.6M46.5 51.12h1.6M329.5 51.12h-1.6M46.5 46.28h1.6M329.5 46.28h-1.6M46.5 42.10h1.6M329.5 42.10h-1.6M46.5 38.40h1.6M329.5 38.40h-1.6M46.5 13.37h1.6M329.5 13.37h-1.6M46.5 0.65h1.6M329.5 0.65h-1.6" class="tick"/>
<path d="M117.20 353.1v-2.8M117.20 247.5v2.8M187.90 353.1v-2.8M187.90 247.5v2.8M258.60 353.1v-2.8M258.60 247.5v2.8M67.78 353.1v-1.6M67.78 247.5v1.6M80.23 353.1v-1.6M80.23 247.5v1.6M89.07 353.1v-1.6M89.07 247.5v1.6M95.92 353.1v-1.6M95.92 247.5v1.6M101.52 353.1v-1.6M101.52 247.5v1.6M106.25 353.1v-1.6M106.25 247.5v1.6M110.35 353.1v-1.6M110.35 247.5v1.6M113.96 353.1v-1.6M113.96 247.5v1.6M138.48 353.1v-1.6M138.48 247.5v1.6M150.93 353.1v-1.6M150.93 247.5v1.6M159.77 353.1v-1.6M159.77 247.5v1.6M166.62 353.1v-1.6M166.62 247.5v1.6M172.22 353.1v-1.6M172.22 247.5v1.6M176.95 353.1v-1.6M176.95 247.5v1.6M181.05 353.1v-1.6M181.05 247.5v1.6M184.66 353.1v-1.6M184.66 247.5v1.6M209.18 353.1v-1.6M209.18 247.5v1.6M221.63 353.1v-1.6M221.63 247.5v1.6M230.47 353.1v-1.6M230.47 247.5v1.6M237.32 353.1v-1.6M237.32 247.5v1.6M242.92 353.1v-1.6M242.92 247.5v1.6M247.65 353.1v-1.6M247.65 247.5v1.6M251.75 353.1v-1.6M251.75 247.5v1.6M255.36 353.1v-1.6M255.36 247.5v1.6M279.88 353.1v-1.6M279.88 247.5v1.6M292.33 353.1v-1.6M292.33 247.5v1.6M301.17 353.1v-1.6M301.17 247.5v1.6M308.02 353.1v-1.6M308.02 247.5v1.6M313.62 353.1v-1.6M313.62 247.5v1.6M318.35 353.1v-1.6M318.35 247.5v1.6M322.45 353.1v-1.6M322.45 247.5v1.6M326.06 353.1v-1.6M326.06 247.5v1.6M46.5 300.25h2.8M329.5 300.25h-2.8" class="tick"/>
<path d="M507.80 352.4v-2.8M507.80 0.1v2.8M627.60 352.4v-2.8M627.60 0.1v2.8M424.06 352.4v-1.6M424.06 0.1v1.6M445.16 352.4v-1.6M445.16 0.1v1.6M460.13 352.4v-1.6M460.13 0.1v1.6M471.74 352.4v-1.6M471.74 0.1v1.6M481.22 352.4v-1.6M481.22 0.1v1.6M489.24 352.4v-1.6M489.24 0.1v1.6M496.19 352.4v-1.6M496.19 0.1v1.6M502.32 352.4v-1.6M502.32 0.1v1.6M543.86 352.4v-1.6M543.86 0.1v1.6M564.96 352.4v-1.6M564.96 0.1v1.6M579.93 352.4v-1.6M579.93 0.1v1.6M591.54 352.4v-1.6M591.54 0.1v1.6M601.02 352.4v-1.6M601.02 0.1v1.6M609.04 352.4v-1.6M609.04 0.1v1.6M615.99 352.4v-1.6M615.99 0.1v1.6M622.12 352.4v-1.6M622.12 0.1v1.6M663.66 352.4v-1.6M663.66 0.1v1.6M388.5 66.50h2.8M684.5 66.50h-2.8M388.5 209.50h2.8M684.5 209.50h-2.8M388.5 9.59h1.6M684.5 9.59h-1.6M388.5 23.45h1.6M684.5 23.45h-1.6M388.5 34.78h1.6M684.5 34.78h-1.6M388.5 44.35h1.6M684.5 44.35h-1.6M388.5 52.64h1.6M684.5 52.64h-1.6M388.5 59.96h1.6M684.5 59.96h-1.6M388.5 109.55h1.6M684.5 109.55h-1.6M388.5 134.73h1.6M684.5 134.73h-1.6M388.5 152.59h1.6M684.5 152.59h-1.6M388.5 166.45h1.6M684.5 166.45h-1.6M388.5 177.78h1.6M684.5 177.78h-1.6M388.5 187.35h1.6M684.5 187.35h-1.6M388.5 195.64h1.6M684.5 195.64h-1.6M388.5 202.96h1.6M684.5 202.96h-1.6M388.5 252.55h1.6M684.5 252.55h-1.6M388.5 277.73h1.6M684.5 277.73h-1.6M388.5 295.59h1.6M684.5 295.59h-1.6M388.5 309.45h1.6M684.5 309.45h-1.6M388.5 320.78h1.6M684.5 320.78h-1.6M388.5 330.35h1.6M684.5 330.35h-1.6M388.5 338.64h1.6M684.5 338.64h-1.6M388.5 345.96h1.6M684.5 345.96h-1.6" class="tick"/>
<rect x="46.5" y="0.1" width="283.00" height="217.40" class="box"/>
<rect x="46.5" y="247.5" width="283.00" height="105.60" class="box"/>
<rect x="388.5" y="0.1" width="296.00" height="352.30" class="box"/>
<rect x="279.3" y="6.5" width="44.30" height="19.80" fill="#fff" stroke="#6a6a6a" stroke-width="1"/>
<ellipse cx="292.0" cy="16.3" rx="1.9" ry="1.45" fill="#ffe8e8" stroke="#f43030" stroke-width="0.95"/>
<text x="304.9" y="18.3" font-family="Liberation Serif" font-style="italic" font-size="10.2" fill="#2a2a2a">&#961;</text><text x="309.6" y="23.9" class="lbl" style="font-size:8.7px;fill:#222">det</text>
<rect x="278.3" y="252.4" width="45.30" height="19.80" fill="#fff" stroke="#6a6a6a" stroke-width="1"/>
<ellipse cx="291.0" cy="262.3" rx="1.9" ry="1.45" fill="#ffe8e8" stroke="#f43030" stroke-width="0.95"/>
<text transform="translate(303.6,264.6) scale(1.14,1)" font-family="Liberation Serif" font-style="italic" font-size="10.6" fill="#2a2a2a">&#981;</text><text x="309.7" y="269.9" class="lbl" style="font-size:8.7px;fill:#222">det</text>
<text x="37.62" y="237.30" class="t" letter-spacing="-0.7">10</text>
<text x="50.04" y="231.00" class="ts">0</text>
<rect x="38.03" y="236.22" width="2.45" height="1.88" fill="#fff"/>
<rect x="41.73" y="236.22" width="2.11" height="1.88" fill="#fff"/>
<text x="37.62" y="372.30" class="t" letter-spacing="-0.7">10</text>
<text x="50.04" y="366.70" class="ts">0</text>
<rect x="38.03" y="371.22" width="2.45" height="1.88" fill="#fff"/>
<rect x="41.73" y="371.22" width="2.11" height="1.88" fill="#fff"/>
<text x="108.32" y="237.30" class="t" letter-spacing="-0.7">10</text>
<text x="120.74" y="231.00" class="ts">1</text>
<rect x="108.73" y="236.22" width="2.45" height="1.88" fill="#fff"/>
<rect x="112.43" y="236.22" width="2.11" height="1.88" fill="#fff"/>
<rect x="121.00" y="230.08" width="2.06" height="1.72" fill="#fff"/>
<rect x="124.11" y="230.08" width="2.11" height="1.72" fill="#fff"/>
<text x="108.32" y="372.30" class="t" letter-spacing="-0.7">10</text>
<text x="120.74" y="366.70" class="ts">1</text>
<rect x="108.73" y="371.22" width="2.45" height="1.88" fill="#fff"/>
<rect x="112.43" y="371.22" width="2.11" height="1.88" fill="#fff"/>
<rect x="121.00" y="365.78" width="2.06" height="1.72" fill="#fff"/>
<rect x="124.11" y="365.78" width="2.11" height="1.72" fill="#fff"/>
<text x="179.02" y="237.30" class="t" letter-spacing="-0.7">10</text>
<text x="191.44" y="231.00" class="ts">2</text>
<rect x="179.43" y="236.22" width="2.45" height="1.88" fill="#fff"/>
<rect x="183.13" y="236.22" width="2.11" height="1.88" fill="#fff"/>
<text x="179.02" y="372.30" class="t" letter-spacing="-0.7">10</text>
<text x="191.44" y="366.70" class="ts">2</text>
<rect x="179.43" y="371.22" width="2.45" height="1.88" fill="#fff"/>
<rect x="183.13" y="371.22" width="2.11" height="1.88" fill="#fff"/>
<text x="249.72" y="237.30" class="t" letter-spacing="-0.7">10</text>
<text x="262.14" y="231.00" class="ts">3</text>
<rect x="250.13" y="236.22" width="2.45" height="1.88" fill="#fff"/>
<rect x="253.83" y="236.22" width="2.11" height="1.88" fill="#fff"/>
<text x="249.72" y="372.30" class="t" letter-spacing="-0.7">10</text>
<text x="262.14" y="366.70" class="ts">3</text>
<rect x="250.13" y="371.22" width="2.45" height="1.88" fill="#fff"/>
<rect x="253.83" y="371.22" width="2.11" height="1.88" fill="#fff"/>
<text x="320.42" y="237.30" class="t" letter-spacing="-0.7">10</text>
<text x="332.84" y="231.00" class="ts">4</text>
<rect x="320.83" y="236.22" width="2.45" height="1.88" fill="#fff"/>
<rect x="324.53" y="236.22" width="2.11" height="1.88" fill="#fff"/>
<text x="320.42" y="372.30" class="t" letter-spacing="-0.7">10</text>
<text x="332.84" y="366.70" class="ts">4</text>
<rect x="320.83" y="371.22" width="2.45" height="1.88" fill="#fff"/>
<rect x="324.53" y="371.22" width="2.11" height="1.88" fill="#fff"/>
<text x="24.54" y="41.70" class="t" letter-spacing="-0.7">10</text>
<text x="36.96" y="36.50" class="ts">1</text>
<rect x="24.95" y="40.62" width="2.45" height="1.88" fill="#fff"/>
<rect x="28.65" y="40.62" width="2.11" height="1.88" fill="#fff"/>
<rect x="37.21" y="35.58" width="2.06" height="1.72" fill="#fff"/>
<rect x="40.32" y="35.58" width="2.11" height="1.72" fill="#fff"/>
<text x="24.54" y="113.90" class="t" letter-spacing="-0.7">10</text>
<text x="36.96" y="108.70" class="ts">0</text>
<rect x="24.95" y="112.82" width="2.45" height="1.88" fill="#fff"/>
<rect x="28.65" y="112.82" width="2.11" height="1.88" fill="#fff"/>
<text x="21.34" y="186.10" class="t" letter-spacing="-0.7">10</text>
<text x="33.76" y="180.90" class="ts">-1</text>
<rect x="21.75" y="185.02" width="2.45" height="1.88" fill="#fff"/>
<rect x="25.45" y="185.02" width="2.11" height="1.88" fill="#fff"/>
<rect x="37.21" y="179.98" width="2.06" height="1.72" fill="#fff"/>
<rect x="40.32" y="179.98" width="2.11" height="1.72" fill="#fff"/>
<text x="42.70" y="252.62" class="t" text-anchor="end">90</text>
<text x="42.70" y="304.87" class="t" text-anchor="end">45</text>
<text x="42.70" y="358.12" class="t" text-anchor="end">0</text>
<text x="377.52" y="372.40" class="t" letter-spacing="-0.7">10</text>
<text x="389.94" y="366.70" class="ts">-1</text>
<rect x="377.93" y="371.32" width="2.45" height="1.88" fill="#fff"/>
<rect x="381.63" y="371.32" width="2.11" height="1.88" fill="#fff"/>
<rect x="393.39" y="365.78" width="2.06" height="1.72" fill="#fff"/>
<rect x="396.50" y="365.78" width="2.11" height="1.72" fill="#fff"/>
<text x="498.92" y="372.40" class="t" letter-spacing="-0.7">10</text>
<text x="511.34" y="366.70" class="ts">0</text>
<rect x="499.33" y="371.32" width="2.45" height="1.88" fill="#fff"/>
<rect x="503.03" y="371.32" width="2.11" height="1.88" fill="#fff"/>
<text x="618.72" y="372.40" class="t" letter-spacing="-0.7">10</text>
<text x="631.14" y="366.70" class="ts">1</text>
<rect x="619.13" y="371.32" width="2.45" height="1.88" fill="#fff"/>
<rect x="622.83" y="371.32" width="2.11" height="1.88" fill="#fff"/>
<rect x="631.40" y="365.78" width="2.06" height="1.72" fill="#fff"/>
<rect x="634.51" y="365.78" width="2.11" height="1.72" fill="#fff"/>
<text x="366.24" y="73.10" class="t" letter-spacing="-0.7">10</text>
<text x="378.66" y="67.80" class="ts">0</text>
<rect x="366.65" y="72.02" width="2.45" height="1.88" fill="#fff"/>
<rect x="370.35" y="72.02" width="2.11" height="1.88" fill="#fff"/>
<text x="366.24" y="216.10" class="t" letter-spacing="-0.7">10</text>
<text x="378.66" y="210.80" class="ts">1</text>
<rect x="366.65" y="215.02" width="2.45" height="1.88" fill="#fff"/>
<rect x="370.35" y="215.02" width="2.11" height="1.88" fill="#fff"/>
<rect x="378.91" y="209.88" width="2.06" height="1.72" fill="#fff"/>
<rect x="382.02" y="209.88" width="2.11" height="1.72" fill="#fff"/>
<text x="366.24" y="359.10" class="t" letter-spacing="-0.7">10</text>
<text x="378.66" y="353.80" class="ts">2</text>
<rect x="366.65" y="358.02" width="2.45" height="1.88" fill="#fff"/>
<rect x="370.35" y="358.02" width="2.11" height="1.88" fill="#fff"/>
<text x="188" y="388" class="lbl" text-anchor="middle">Period (s)</text>
<text x="536" y="389" class="lbl" text-anchor="middle">Resistivity (ohm-m)</text>
<text transform="translate(360.0,174.8) rotate(-90)" class="lbl" text-anchor="middle">Depth (km)</text>
<g transform="translate(9.8,143.5) rotate(-90)"><text x="0.8" y="0" font-family="Liberation Serif" font-style="italic" font-size="12.9" fill="#303030">&#961;</text><text x="7.3" y="5.9" class="lbl" style="font-size:10.2px">a</text><text x="16.9" y="0" class="lbl">(Ohm-m)</text></g>
<g transform="translate(24.3,308.2) rotate(-90)"><text transform="scale(1.14,1)" x="0" y="0" font-family="Liberation Serif" font-style="italic" font-size="12.0" fill="#303030">&#981;</text><text x="9.6" y="0.7" class="lbl" style="font-size:15.5px">&#176;</text></g>
<text x="60.3" y="24.6" font-family="Liberation Sans" font-size="15.8" fill="#000">a</text>
<text x="402" y="23.8" font-family="Liberation Sans" font-size="17.5" fill="#000">b</text>
</svg></body></html>
